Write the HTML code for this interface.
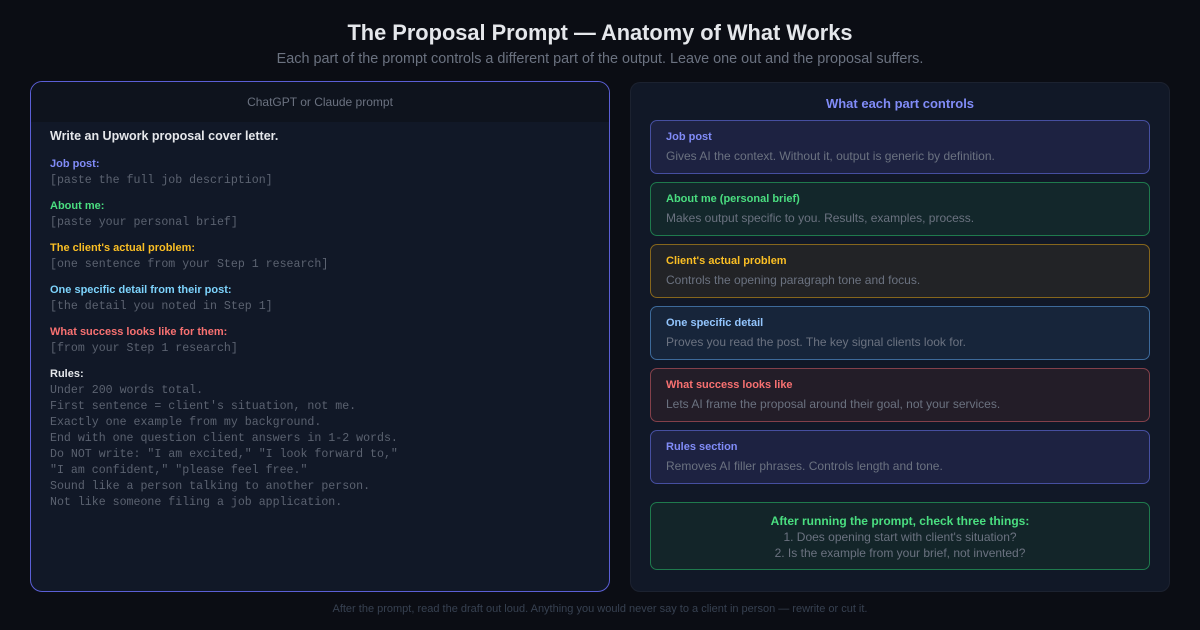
<!DOCTYPE html><html><head><style>
*{margin:0;padding:0;box-sizing:border-box}
body{width:1200px;height:630px;background:#0b0d14;font-family:"Liberation Sans",sans-serif;position:relative;overflow:hidden}
.a{position:absolute;white-space:nowrap}
.m{font-family:"Liberation Mono",monospace;font-size:11.6px;color:#5b6270}
.l{font-size:11px;font-weight:bold}
.card{position:absolute;left:650px;width:500px;height:54px;border-radius:7px;border:1px solid}
.card .t{position:absolute;left:15px;top:10px;font-size:11px;font-weight:bold}
.card .d{position:absolute;left:15px;top:28px;font-size:12px;color:#6b7280}
</style></head><body>
<div class="a" style="left:0;width:1200px;text-align:center;top:20px;font-size:21.8px;font-weight:bold;color:#e5e7eb">The Proposal Prompt — Anatomy of What Works</div>
<div class="a" style="left:0;width:1200px;text-align:center;top:51px;font-size:14.4px;color:#6b7280">Each part of the prompt controls a different part of the output. Leave one out and the proposal suffers.</div>

<div class="a" style="left:30px;top:81px;width:580px;height:511px;border:1.5px solid #5b5fd6;border-radius:12px;background:#111827;overflow:hidden">
<div style="height:40px;background:#0e131d;text-align:center;line-height:40px;font-size:12px;color:#6b7280">ChatGPT or Claude prompt</div>
</div>
<div class="a" style="left:50px;top:129px;font-size:12.5px;font-weight:bold;color:#e5e7eb">Write an Upwork proposal cover letter.</div>
<div class="a l" style="left:50px;top:158px;color:#818cf8">Job post:</div>
<div class="a m" style="left:50px;top:174px">[paste the full job description]</div>
<div class="a l" style="left:50px;top:200px;color:#4ade80">About me:</div>
<div class="a m" style="left:50px;top:216px">[paste your personal brief]</div>
<div class="a l" style="left:50px;top:242px;color:#fbbf24">The client's actual problem:</div>
<div class="a m" style="left:50px;top:258px">[one sentence from your Step 1 research]</div>
<div class="a l" style="left:50px;top:284px;color:#7dd3fc">One specific detail from their post:</div>
<div class="a m" style="left:50px;top:300px">[the detail you noted in Step 1]</div>
<div class="a l" style="left:50px;top:326px;color:#f87171">What success looks like for them:</div>
<div class="a m" style="left:50px;top:342px">[from your Step 1 research]</div>
<div class="a l" style="left:50px;top:368px;color:#e5e7eb">Rules:</div>
<div class="a m" style="left:50px;top:383px;line-height:16px">Under 200 words total.<br>First sentence = client's situation, not me.<br>Exactly one example from my background.<br>End with one question client answers in 1-2 words.<br>Do NOT write: "I am excited," "I look forward to,"<br>"I am confident," "please feel free."<br>Sound like a person talking to another person.<br>Not like someone filing a job application.</div>

<div class="a" style="left:630px;top:82px;width:540px;height:510px;border:1px solid #1c2230;border-radius:10px;background:#111827"></div>
<div class="a" style="left:630px;width:540px;text-align:center;top:96px;font-size:13px;font-weight:bold;color:#818cf8">What each part controls</div>

<div class="card" style="top:120px;background:#1d2241;border-color:#464fa0"><div class="t" style="color:#818cf8">Job post</div><div class="d">Gives AI the context. Without it, output is generic by definition.</div></div>
<div class="card" style="top:182px;background:#13272b;border-color:#1f7a4d"><div class="t" style="color:#4ade80">About me (personal brief)</div><div class="d">Makes output specific to you. Results, examples, process.</div></div>
<div class="card" style="top:244px;background:#222326;border-color:#86661c"><div class="t" style="color:#fbbf24">Client's actual problem</div><div class="d">Controls the opening paragraph tone and focus.</div></div>
<div class="card" style="top:306px;background:#17253a;border-color:#3d6a9a"><div class="t" style="color:#93c5fd">One specific detail</div><div class="d">Proves you read the post. The key signal clients look for.</div></div>
<div class="card" style="top:368px;background:#231d28;border-color:#83404a"><div class="t" style="color:#f87171">What success looks like</div><div class="d">Lets AI frame the proposal around their goal, not your services.</div></div>
<div class="card" style="top:430px;background:#1d2241;border-color:#464fa0"><div class="t" style="color:#818cf8">Rules section</div><div class="d">Removes AI filler phrases. Controls length and tone.</div></div>

<div class="a" style="left:650px;top:502px;width:500px;height:68px;border:1px solid #1f7a4d;border-radius:7px;background:#132529;text-align:center">
<div style="margin-top:11px;font-size:12px;font-weight:bold;color:#4ade80">After running the prompt, check three things:</div>
<div style="font-size:12px;color:#6b7280;line-height:16px;margin-top:1px">1. Does opening start with client's situation?<br>2. Is the example from your brief, not invented?</div>
</div>

<div class="a" style="left:0;width:1200px;text-align:center;top:603px;font-size:11px;color:#374151">After the prompt, read the draft out loud. Anything you would never say to a client in person — rewrite or cut it.</div>
</body></html>
